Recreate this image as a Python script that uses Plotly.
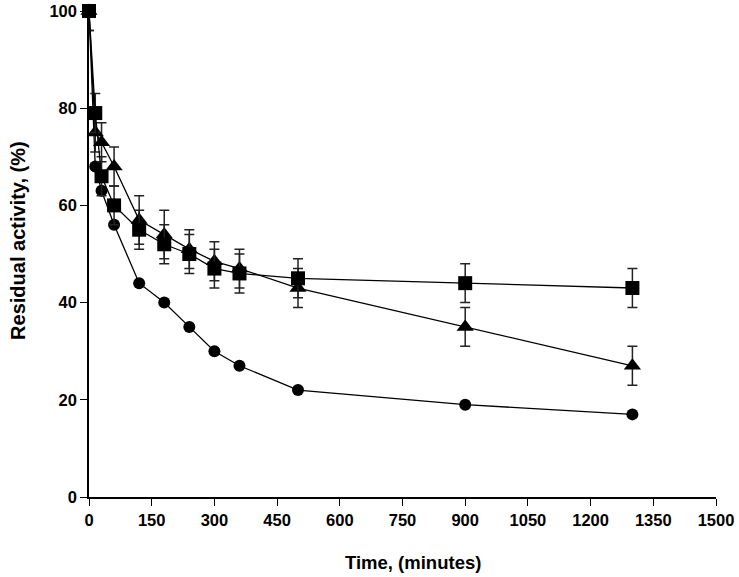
import plotly.graph_objects as go

time_min = [0, 15, 30, 60, 120, 180, 240, 300, 360, 500, 900, 1300]

circle_vals = [100, 68, 63, 56, 44, 40, 35, 30, 27, 22, 19, 17]

triangle_vals = [100, 75, 73, 68, 57, 54, 51, 48.5, 47, 43, 35, 27]
triangle_err = [4, 4, 4, 4, 5, 5, 4, 4, 4, 4, 4, 4]

square_vals = [100, 79, 66, 60, 55, 52, 50, 47, 46, 45, 44, 43]
square_err = [4, 4, 4, 4, 4, 4, 4, 4, 4, 4, 4, 4]

x_ticks = [0, 150, 300, 450, 600, 750, 900, 1050, 1200, 1350, 1500]
y_ticks = [0, 20, 40, 60, 80, 100]

x_title = "Time, (minutes)"
y_title = "Residual activity, (%)"

FONT = "Liberation Sans, Arial, sans-serif"

fig = go.Figure()

fig.add_trace(go.Scatter(
    x=time_min, y=circle_vals, mode="lines+markers",
    line=dict(color="black", width=1.3),
    marker=dict(symbol="circle", size=12, color="black"),
    cliponaxis=False, showlegend=False,
))
fig.add_trace(go.Scatter(
    x=time_min, y=triangle_vals, mode="lines+markers",
    line=dict(color="black", width=1.3),
    marker=dict(symbol="triangle-up", size=15, color="black"),
    error_y=dict(type="data", array=triangle_err, visible=True,
                 color="#222222", thickness=1.5, width=5),
    cliponaxis=False, showlegend=False,
))
fig.add_trace(go.Scatter(
    x=time_min, y=square_vals, mode="lines+markers",
    line=dict(color="black", width=1.3),
    marker=dict(symbol="square", size=14, color="black"),
    error_y=dict(type="data", array=square_err, visible=True,
                 color="#222222", thickness=1.5, width=5),
    cliponaxis=False, showlegend=False,
))

tickfont = dict(family=FONT, size=16.5, color="black", weight="bold")
titlefont = dict(family=FONT, size=18.5, color="black", weight="bold")

fig.update_layout(
    width=739, height=577,
    margin=dict(l=89, r=23, t=11, b=80),
    plot_bgcolor="white", paper_bgcolor="white",
    font=dict(family=FONT, size=16, color="black"),
    xaxis=dict(
        range=[0, 1500], tickvals=x_ticks, ticktext=[str(v) for v in x_ticks],
        showgrid=False, zeroline=False, showline=True, linecolor="black", linewidth=1.5,
        ticks="outside", ticklen=7, tickwidth=1.3, tickcolor="black",
        tickfont=tickfont, automargin=False,
    ),
    yaxis=dict(
        range=[0, 100], tickvals=y_ticks, ticktext=[str(v) for v in y_ticks],
        showgrid=False, zeroline=False, showline=True, linecolor="black", linewidth=1.5,
        ticks="outside", ticklen=7, tickwidth=1.3, tickcolor="black",
        tickfont=tickfont, automargin=False,
    ),
    annotations=[
        dict(text=x_title, xref="paper", yref="paper", x=0.517, y=0,
             xanchor="center", yanchor="middle", yshift=-65, showarrow=False,
             font=titlefont),
        dict(text=y_title, xref="paper", yref="paper", x=0, y=0.527,
             xanchor="center", yanchor="middle", xshift=-71, textangle=-90,
             showarrow=False, font=dict(family=FONT, size=20, color="black", weight="bold")),
    ],
)

fig.write_html("out.html", post_script="document.body.style.margin='0';",
               config={"displayModeBar": False})
